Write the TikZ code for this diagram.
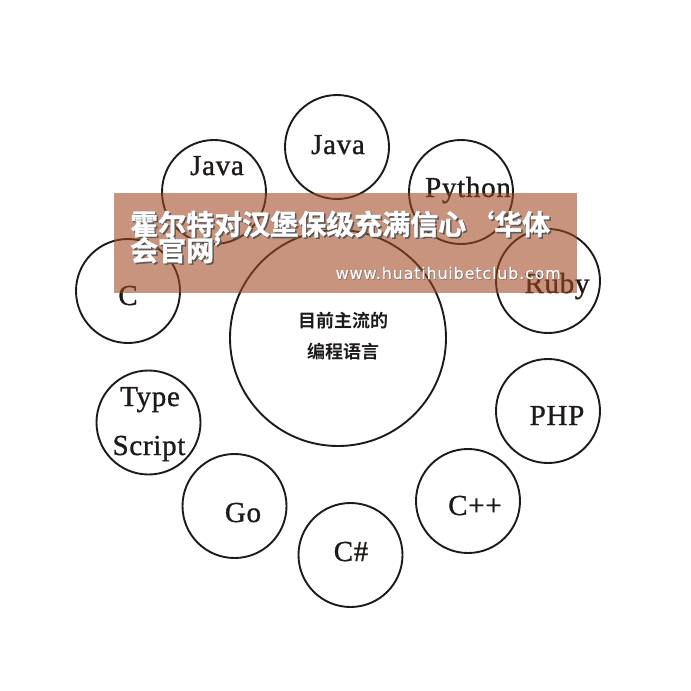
\documentclass[tikz,border=0pt]{standalone}
\usepackage{fontspec}
\setmainfont[LetterSpace=2.5,FakeBold=1]{Liberation Serif}
\newfontfamily\cjk{Noto Sans CJK SC Bold}
\newfontfamily\cjkbold[FakeBold=1.2]{Noto Sans CJK SC Bold}
\newfontfamily\urlfont[LetterSpace=5,FakeBold=0.4]{DejaVu Sans}
\definecolor{bannerc}{RGB}{160,71,31}
\definecolor{inkc}{RGB}{30,26,24}
\tikzset{lang/.style={draw=inkc,circle,line width=1.9pt,minimum size=104pt,inner sep=0pt}}
\tikzset{center/.style={lang,minimum size=216pt}}
\tikzset{word/.style={text=inkc,inner sep=0pt,anchor=base,font=\fontsize{29}{29}\selectfont}}
\tikzset{zhword/.style={text=inkc,inner sep=0pt,font=\cjk\fontsize{18}{18}\selectfont}}
\tikzset{banner/.style={fill=bannerc,opacity=.58,minimum width=463pt,minimum height=100pt,inner sep=0pt}}
\tikzset{headline/.style={text=white,inner sep=0pt,anchor=west,font=\cjkbold\fontsize{28}{28}\selectfont}}
\tikzset{headshadow/.style={headline,text=black!65}}
\tikzset{urlline/.style={anchor=east,font=\urlfont\fontsize{16}{16}\selectfont}}
\begin{document}
\begin{tikzpicture}[x=1pt,y=-1pt]
    \useasboundingbox (0,0) rectangle (691,691);

    % circles
    \node[center] (core) at (338,338) {};
    \foreach \name/\x/\y in {javatop/337/147,javaleft/214/192,python/461/192,ruby/548/281,
                             php/548/411,cpp/468/501,csharp/350.5/555,go/234.5/506,
                             typescript/148.5/422.5,clang/128/291}{
        \node[lang] (\name) at (\x,\y) {};
    }

    % labels
    \node[zhword] (core1) at (343,321) {目前主流的};
    \node[zhword] (core2) at (343,352) {编程语言};
    \node[word] (tjavatop) at (338,154) {Java};
    \node[word] (tjavaleft) at (217,175) {Java};
    \node[word] (tpython) at (468,197) {Python};
    \node[word] (truby) at (557,293) {Ruby};
    \node[word] (tphp) at (557,425) {PHP};
    \node[word] (tcpp) at (475,515) {C++};
    \node[word] (tcsharp) at (351,561) {C\#};
    \node[word] (tgo) at (243,522) {Go};
    \node[word] (ttype) at (150,406) {Type};
    \node[word] (tscript) at (149,455) {Script};
    \node[word] (tclang) at (128,305) {C};

    % banner
    \node[banner] (band) at (345.5,243) {};
    \foreach \txt/\x/\y [count=\ti] in {霍尔特对汉堡保级充满信心‘华体/130/224,会官网’/130/250}{
        \node[headshadow] (hs\ti) at (\x+1.5,\y+1.5) {\txt};
        \node[headline] (h\ti) at (\x,\y) {\txt};
    }
    \node[headshadow,urlline] (urls) at (561.5,273.5) {www.huatihuibetclub.com};
    \node[headline,urlline] (url) at (561,273) {www.huatihuibetclub.com};
\end{tikzpicture}
\end{document}
